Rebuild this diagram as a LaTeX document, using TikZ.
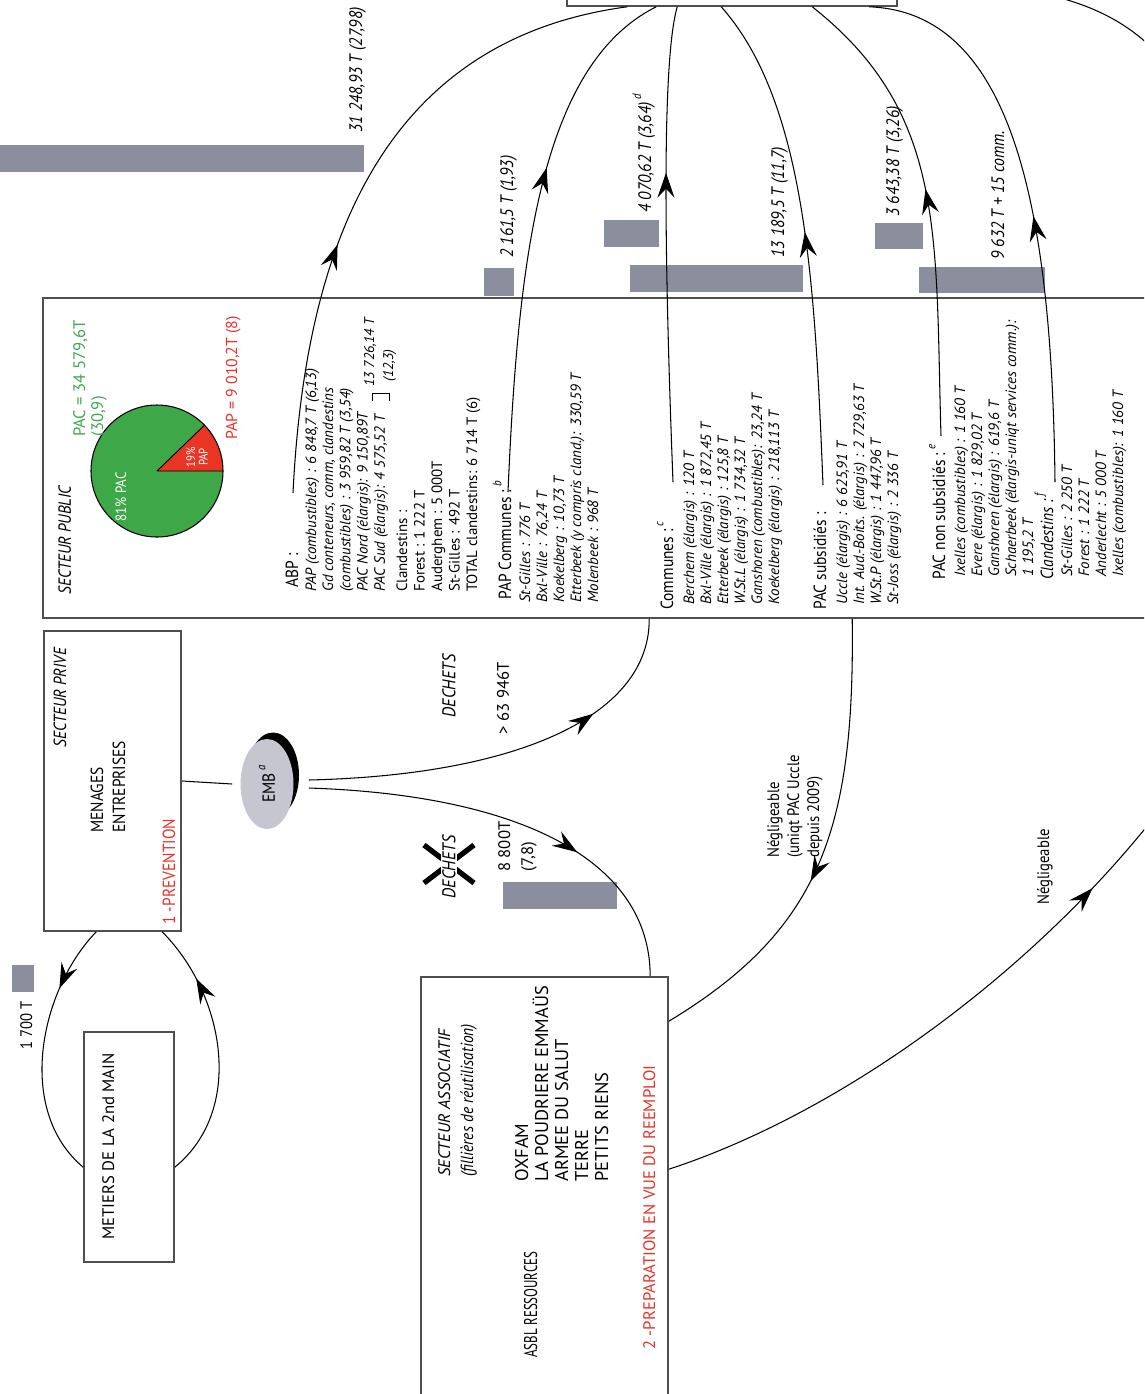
\documentclass[tikz,border=0pt]{standalone}
\usepackage{fontspec}
\setmainfont{PT Sans}[FakeStretch=0.88]
\newfontfamily\widesans{PT Sans}
\newfontfamily\narrowsans{PT Sans}[FakeStretch=0.7]
\usetikzlibrary{arrows.meta,decorations.markings,calc,fit,shapes.geometric}

\definecolor{bar}{RGB}{139,142,157}
\definecolor{embgray}{RGB}{197,198,207}
\definecolor{piegreen}{RGB}{62,167,72}
\definecolor{piered}{RGB}{234,52,36}
\definecolor{txtgreen}{RGB}{62,168,78}
\definecolor{txtred}{RGB}{232,50,40}
\definecolor{frame}{RGB}{78,78,78}

\newcommand{\fhead}{\fontsize{10}{12}\selectfont}
\newcommand{\fneg}{\fontsize{9.5}{11}\selectfont}
\newcommand{\fbig}{\fontsize{10.5}{12}\selectfont}
\newcommand{\fwide}{\widesans\fontsize{9.5}{11}\selectfont}
\newcommand{\fitem}{\widesans\fontsize{8.5}{10}\selectfont\itshape}
\newcommand{\fitemup}{\widesans\fontsize{8.5}{10}\selectfont}
\newcommand{\flab}{\fontsize{10.3}{12}\selectfont\itshape}
\newcommand{\supl}[1]{\,\raisebox{1.1ex}{\fontsize{7}{8}\selectfont\itshape #1}}

\begin{document}
\begin{tikzpicture}[x=0.02cm,y=-0.02cm,
  box/.style={draw=frame,line width=0.9pt,inner sep=0pt},
  barbox/.style={fill=bar,draw=none,inner sep=0pt},
  flow/.style={line width=0.6pt},
  midarrow/.style={postaction={decorate},decoration={markings,
     mark=at position #1 with {\arrow{Stealth[length=5mm,width=3.4mm,inset=1.8mm]}}}},
  rt/.style={rotate=90,anchor=base west,inner sep=0pt},
  rtc/.style={rotate=90,anchor=center,inner sep=0pt}]
\useasboundingbox (0,0) rectangle (1144,1394);
\clip (0,0) rectangle (1144,1394);
\fill[white] (0,0) rectangle (1144,1394);

% ---------- boxes ----------
\node[box,fit={(567,-40)(897,6)}] (collect) {};
\node[box,fit={(43,298)(1175,618)}] (public) {};
\node[box,fit={(44,631)(181,931)}] (prive) {};
\node[box,fit={(421,977)(668,1420)}] (asso) {};
\node[box,fit={(84,1032)(174,1262)}] (metiers) {};

% ---------- grey bars ----------
\node[barbox,fit={(0,145)(364,172)}] (barA) {};
\node[barbox,fit={(484,268)(514,296)}] (barB) {};
\node[barbox,fit={(604,220)(659,247)}] (barC) {};
\node[barbox,fit={(630,265)(803,292)}] (barD) {};
\node[barbox,fit={(875,223)(923,249)}] (barE) {};
\node[barbox,fit={(919,267)(1045,293)}] (barF) {};
\node[barbox,fit={(503,882)(617,909)}] (barX) {};
\node[barbox,fit={(12,965)(34,992)}] (barM) {};

% ---------- flow labels ----------
\node[rt,font=\flab] (lA) at (362,133) {31 248,93 T (27,98)};
\node[rt,font=\flab] (lB) at (513,258) {2 161,5 T (1,93)};
\node[rt,font=\flab] (lC) at (651,213) {4 070,62 T (3,64)\supl{d}};
\node[rt,font=\flab] (lD) at (784,258) {13 189,5 T (11,7)};
\node[rt,font=\flab] (lE) at (899,217) {3 643,38 T (3,26)};
\node[rt,font=\flab] (lF) at (1004,260) {9 632 T + 15 comm.};

% ---------- public sector ----------
\node[rt,font={\fhead\itshape}] (secpub) at (71,595) {SECTEUR PUBLIC};
\coordinate (pie) at (157,471);
\fill[piegreen] (pie) circle[radius=66];
\fill[piered] (pie) -- ++(66,0) arc[start angle=0,end angle=-44,radius=66] -- cycle;
\draw[line width=0.6pt] (pie) circle[radius=66];
\draw[line width=0.5pt] (pie) -- ++(66,0) (pie) -- ++(-44:66);
\node[rtc,font=\fontsize{8.5}{10}\selectfont,text=white] (p81) at (121,497) {81\% PAC};
\node[rtc,font=\fontsize{7}{7}\selectfont,text=white,align=center] (p19) at (197,457) {19\%\\PAP};
\node[rt,font=\fwide,text=txtgreen] (pacA) at (85,437) {PAC = 34 579,6T};
\node[rt,font=\fwide,text=txtgreen] (pacB) at (103,437) {(30,9)};
\node[rt,font={\widesans\fontsize{9}{11}\selectfont},text=txtred] (papv) at (237,440) {PAP = 9 010,2T (8)};

% ABP
\node[rt,font=\fhead] (abpHead) at (298,588) {ABP :};
\foreach \lbl [count=\i from 0] in {{PAP (combustibles) : 6 848,7 T (6,13)},
  {Gd conteneurs, comm, clandestins},{(combustibles) : 3 959,82 T (3,54)},
  {PAC Nord (élargis): 9 150,89T},{PAC Sud (élargis): 4 575,52 T}}
  \node[rt,font=\fitem] (abp\i) at ({316+17.2*\i},592) {\lbl};
\draw[line width=0.5pt] (372,401) -- (372,393) -- (389,393) -- (389,401);
\node[rt,font={\widesans\fontsize{8}{9}\selectfont\itshape}] (abpSum) at (374,387) {13 726,14 T};
\node[rt,font={\widesans\fontsize{8}{9}\selectfont\itshape}] (abpPct) at (393,382) {(12,3)};
\foreach \lbl [count=\i from 0] in {{Clandestins :},{Forest : 1 222 T},
  {Auderghem : 5 000T},{St-Gilles : 492 T},{TOTAL clandestins: 6 714 T (6)}}
  \node[rt,font=\fitemup] (abpc\i) at ({407+17.5*\i},592) {\lbl};

% PAP communes
\node[rt,font=\fhead] (pcHead) at (511,600) {PAP Communes :\supl{b}};
\foreach \lbl [count=\i from 0] in {{St-Gilles : 776 T},{Bxl-Ville : 76,24 T},
  {Koekelberg : 10,73 T},{Etterbeek (y compris cland.): 330,59 T},{Molenbeek : 968 T}}
  \node[rt,font=\fitem] (pc\i) at ({530+17*\i},603) {\lbl};

% Communes
\node[rt,font=\fhead] (comHead) at (673,610) {Communes :\supl{c}};
\foreach \lbl [count=\i from 0] in {{Berchem (élargis) : 120 T},
  {Bxl-Ville (élargis) : 1 872,45 T},{Etterbeek (élargis) : 125,8 T},
  {W.St.L (élargis) : 1 734,32 T},{Ganshoren (combustibles): 23,24 T},
  {Koekelberg (élargis) : 218,113 T}}
  \node[rt,font=\fitem] (com\i) at ({694+17*\i},605) {\lbl};

% PAC subsidies
\node[rt,font=\fhead] (subHead) at (826,610) {PAC subsidiés :};
\foreach \lbl [count=\i from 0] in {{Uccle (élargis) : 6 625,91 T},
  {Int. Aud.-Boits. (élargis) : 2 729,63 T},{W.St.P (élargis) : 1 447,96 T},
  {St-Joss (élargis) : 2 336 T}}
  \node[rt,font=\fitem] (sub\i) at ({847+17*\i},605) {\lbl};

% PAC non subsidies
\node[rt,font=\fhead] (nsHead) at (945,580) {PAC non subsidiés :\supl{e}};
\foreach \lbl [count=\i from 0] in {{Ixelles (combustibles) : 1 160 T},
  {Evere (élargis) : 1 829,02 T},{Ganshoren (élargis) : 619,6 T},
  {Schaerbeek (élargis-uniqt services comm.):},{1 195,2 T}}
  \node[rt,font=\fitem] (ns\i) at ({965+17*\i},577) {\lbl};

% Clandestins
\node[rt,font={\fhead\itshape}] (clHead) at (1053,580) {Clandestins :\supl{f}};
\foreach \lbl [count=\i from 0] in {{St-Gilles : 2 250 T},{Forest : 1 222 T},
  {Anderlecht : 5 000 T},{Ixelles (combustibles): 1 160 T}}
  \node[rt,font=\fitem] (cl\i) at ({1072+17*\i},577) {\lbl};

% ---------- private sector ----------
\node[rt,font={\fhead\itshape}] (prTitle) at (66,748) {SECTEUR PRIVE};
\node[rt,font=\fhead] (prM) at (103,833) {MENAGES};
\node[rt,font=\fhead] (prE) at (125,833) {ENTREPRISES};
\node[rt,font=\fhead,text=txtred] (prev) at (175,925) {1 -PREVENTION};

\node[ellipse,fill=black,minimum width=1.04cm,minimum height=1.7cm,inner sep=0pt] (embshadow) at (273,775) {};
\node[ellipse,fill=embgray,minimum width=1.06cm,minimum height=1.8cm,inner sep=0pt] (emb) at (267,784) {};
\node[rtc,font=\fhead] (embtxt) at (emb.center) {EMB\supl{a}};

% ---------- waste labels ----------
\node[rtc,font={\fbig\itshape}] (dech) at (449,686) {DECHETS};
\node[rtc,font=\fwide] (dechval) at (503,698) {\textgreater{} 63 946T};
\draw[line width=3pt] (424,845) -- (474,883) (424,883) -- (474,845);
\node[rtc,font={\fbig\itshape},fill=white,inner sep=1pt] (dechX) at (449,867) {DECHETS};
\node[rt,font=\fwide] (v88a) at (510,872) {8 800T};
\node[rt,font=\fwide] (v88b) at (533,872) {(7,8)};

% ---------- associative sector ----------
\node[rt,font={\fwide\itshape}] (asTitle) at (450,1177) {SECTEUR ASSOCIATIF};
\node[rt,font={\fhead\itshape}] (asSub) at (473,1177) {(fillières de réutilisation)};
\foreach \lbl [count=\i from 0] in {{OXFAM},{LA POUDRIERE EMMAÜS},{ARMEE DU SALUT},{TERRE},{PETITS RIENS}}
  \node[rt,font={\widesans\fontsize{10.5}{12}\selectfont}] (as\i) at ({528+20*\i},1182) {\lbl};
\node[rt,font={\narrowsans\fontsize{10.5}{12}\selectfont}] (asbl) at (537,1358) {ASBL RESSOURCES};
\node[rt,font=\fwide,text=txtred] (reemploi) at (655,1350) {2 -PREPARATION EN VUE DU REEMPLOI};

% ---------- second-hand trades ----------
\node[rt,font=\fwide] (metTxt) at (114,1240) {METIERS DE LA 2nd MAIN};
\node[rt,font=\fneg] (v1700) at (32,1050) {1 700 T};

% ---------- negligible flows ----------
\node[rt,font=\fneg] (neg1a) at (779,858) {Négligeable};
\node[rt,font=\fneg] (neg1b) at (799,858) {(uniqt PAC Uccle};
\node[rt,font=\fneg] (neg1c) at (819,858) {depuis 2009)};
\node[rt,font=\fneg] (neg2) at (1049,905) {Négligeable};

% ---------- connector end points ----------
\coordinate (abpEnd) at (293,493);
\coordinate (pcEnd) at (508,492);
\coordinate (comEnd) at (673,482);
\coordinate (subEnd) at (823,485);
\coordinate (nsEnd) at (941,436);
\coordinate (clEnd) at (1055,482);
\coordinate (offRight) at (1175,790);
\coordinate (offTop) at (1170,69);

% ---------- connectors ----------
\draw[flow,midarrow=0.39] (abpEnd) .. controls (305,250) and (380,40) .. ($(collect.south west)+(61,0)$);
\draw[flow,midarrow=0.62] (pcEnd) .. controls (518,260) and (540,65) .. ($(collect.south west)+(90,0)$);
\draw[flow,midarrow=0.65] (comEnd) .. controls (664,250) and (662,60) .. ($(collect.south west)+(111,0)$);
\draw[flow,midarrow=0.51] (subEnd) .. controls (815,285) and (806,102) .. ($(collect.south west)+(155,0)$);
\draw[flow,midarrow=0.53] (nsEnd) .. controls (935,236) and (947,113) .. ($(collect.south west)+(246,0)$);
\draw[flow,midarrow=0.48] (clEnd) .. controls (1052,200) and (1010,12) .. ($(collect.south west)+(303,0)$);
\draw[flow] (collect.east) .. controls (1000,-17) and (1110,-13) .. (offTop);

\draw[flow] (prive.east) -- ($(emb.west)+(-8,0)$);
\draw[flow,midarrow=0.72] ($(emb.east)+(15,-4)$) .. controls (520,775) and (650,715) .. ($(public.south west)+(607,0)$);
\draw[flow,midarrow=0.65] ($(emb.east)+(15,4)$) .. controls (520,795) and (650,860) .. ($(asso.north west)+(230,0)$);

\draw[flow,midarrow=0.57] ($(public.south west)+(810,0)$) .. controls (855,830) and (820,930) .. ($(asso.north east)+(0,45)$);
\draw[flow,midarrow=0.8] ($(asso.north east)+(0,193)$) .. controls (850,1110) and (1050,960) .. (offRight);

\draw[flow,midarrow=0.26] ($(prive.south west)+(53,0)$) .. controls (40,990) and (15,1110) .. ($(metiers.north west)+(0,136)$);
\draw[flow,midarrow=0.78] ($(metiers.north east)+(0,136)$) .. controls (245,1110) and (225,995) .. ($(prive.south west)+(119,0)$);
\end{tikzpicture}
\end{document}
